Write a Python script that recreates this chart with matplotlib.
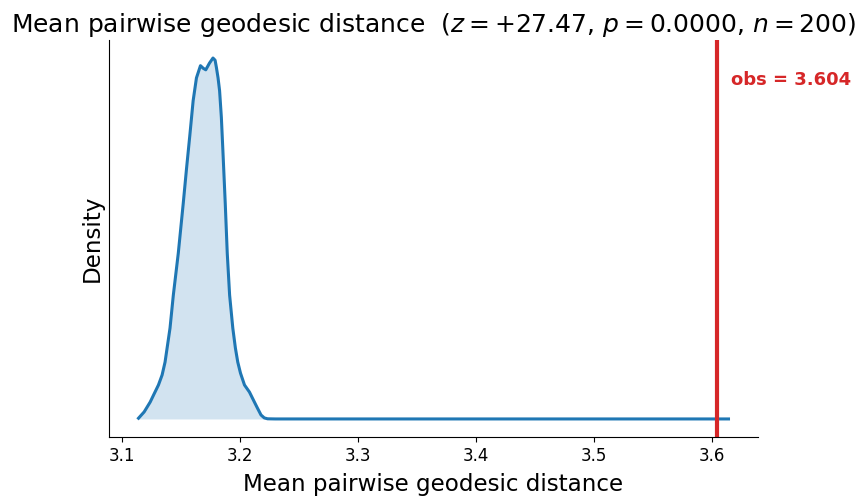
import numpy as np
import matplotlib
matplotlib.use('Agg')
import matplotlib.pyplot as plt

# null distribution (KDE)
x_vals = [3.1141, 3.1189, 3.1240, 3.1273, 3.1310, 3.1341, 3.1366, 3.1408,
          3.1436, 3.1478, 3.1520, 3.1548, 3.1576, 3.1604, 3.1632, 3.1666,
          3.1690, 3.1711, 3.1742, 3.1772, 3.1790, 3.1801, 3.1815, 3.1828,
          3.1843, 3.1856, 3.1876, 3.1893, 3.1913, 3.1940, 3.1962, 3.1982,
          3.2005, 3.2039, 3.2081, 3.2123, 3.2148, 3.2179, 3.2207, 3.2235,
          3.2300, 3.3000, 3.4000, 3.5000, 3.6000, 3.6140]
density = [0.05, 0.48, 1.15, 1.70, 2.31, 2.99, 3.87, 6.18,
           8.42, 11.27, 14.66, 17.04, 19.30, 21.65, 23.20, 24.03,
           23.85, 23.75, 24.20, 24.55, 24.40, 23.91, 23.20, 22.33,
           20.52, 18.26, 14.66, 11.27, 8.42, 6.18, 4.82, 3.87,
           3.12, 2.31, 1.83, 1.15, 0.75, 0.27, 0.07, 0.01,
           0.0, 0.0, 0.0, 0.0, 0.0, 0.0]
obs = 3.604
z_score = 27.47
p_value = 0.0
n_perm = 200

fig = plt.figure(figsize=(8.59, 4.98), dpi=100)
ax = fig.add_axes([0.1269, 0.1225, 0.7555, 0.7972])

ax.plot(x_vals, density, color='#1f77b4', lw=2.2)
ax.fill_between(x_vals, density, color='#1f77b4', alpha=0.2, lw=0)
ax.axvline(obs, color='#d62728', lw=3)
ax.annotate(f'obs = {obs:.3f}', xy=(obs, 0.922), xycoords=('data', 'axes fraction'),
            xytext=(10, 0), textcoords='offset points', ha='left', va='top',
            color='#d62728', fontsize=13, fontweight='bold')

ax.set_yticks([])
ax.spines['top'].set_visible(False)
ax.spines['right'].set_visible(False)
ax.tick_params(axis='x', labelsize=12)
ax.set_xlabel('Mean pairwise geodesic distance', fontsize=16.6, labelpad=6)
ax.set_ylabel('Density', fontsize=16.6)
ax.set_title(f'Mean pairwise geodesic distance  ($z = {z_score:+.2f}$, $p = {p_value:.4f}$, $n = {n_perm}$)',
             fontsize=18)

plt.savefig('out.png', dpi=100)
